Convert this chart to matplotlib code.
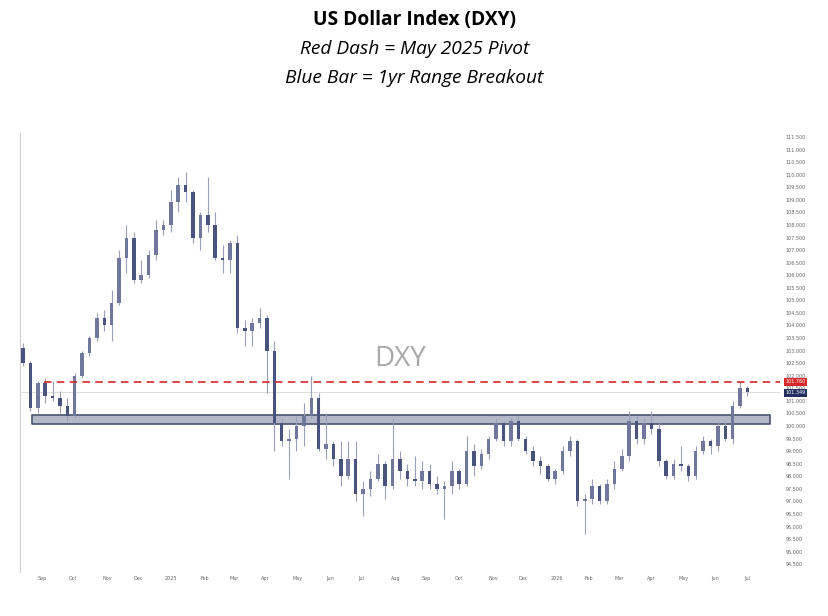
import numpy as np
import pandas as pd
import matplotlib
matplotlib.use("Agg")
import matplotlib.pyplot as plt

# weekly DXY bars, first week starts 2024-08-12, last week starts 2026-06-29
first_week = "2024-08-12"

opens = [103.1, 102.5, 100.7, 101.7, 101.2, 101.1, 100.8, 100.4, 102.0, 102.9,
         103.5, 104.3, 104.0, 104.9, 106.7, 107.5, 105.8, 106.0, 106.8, 107.8,
         108.0, 108.9, 109.6, 109.3, 107.5, 108.4, 108.0, 106.7, 106.6, 107.3,
         103.9, 103.8, 104.1, 104.3, 103.0, 100.1, 99.4, 99.5, 100.0, 100.4,
         101.1, 99.1, 99.3, 98.7, 98.0, 98.7, 97.3, 97.5, 97.9, 98.5,
         97.6, 98.7, 98.2, 97.9, 97.8, 98.2, 97.7, 97.5, 97.6, 98.2,
         97.7, 99.0, 98.4, 98.9, 99.5, 100.1, 99.4, 100.2, 99.5, 99.0,
         98.6, 98.4, 97.9, 98.2, 99.0, 99.4, 97.0, 97.1, 97.6, 97.0,
         97.7, 98.3, 98.8, 100.2, 99.5, 100.1, 99.9, 98.6, 98.0, 98.5,
         98.4, 98.0, 99.0, 99.4, 99.2, 100.0, 99.5, 100.8, 101.5]
highs = [103.3, 102.6, 101.8, 101.9, 101.8, 101.4, 101.1, 102.1, 103.0, 103.6,
         104.5, 104.6, 105.4, 107.0, 108.0, 107.7, 106.6, 107.0, 108.2, 108.2,
         109.4, 109.9, 110.1, 109.4, 108.5, 109.9, 108.5, 107.2, 107.4, 107.6,
         104.2, 104.3, 104.7, 104.4, 103.4, 100.3, 99.9, 100.4, 100.9, 102.0,
         101.3, 100.5, 99.4, 99.4, 99.4, 99.4, 97.8, 98.2, 98.9, 98.6,
         100.3, 99.0, 98.5, 98.8, 98.6, 98.5, 98.0, 97.8, 98.6, 98.3,
         99.6, 99.3, 99.1, 99.6, 100.3, 100.2, 100.3, 100.4, 99.6, 99.2,
         98.8, 98.5, 98.3, 99.2, 99.6, 99.5, 97.3, 97.9, 97.7, 97.9,
         98.6, 99.1, 100.6, 100.4, 100.3, 100.6, 100.1, 98.7, 98.7, 99.2,
         98.5, 99.2, 99.6, 99.5, 100.2, 100.2, 101.0, 101.8, 101.6]
lows = [102.4, 100.6, 100.5, 100.9, 101.0, 100.5, 100.2, 100.3, 101.9, 102.8,
        103.4, 103.8, 103.4, 104.8, 106.1, 105.7, 105.7, 105.9, 106.6, 107.6,
        107.7, 108.5, 108.9, 107.3, 107.0, 107.7, 106.6, 106.1, 106.1, 103.7,
        103.2, 103.2, 103.9, 101.3, 99.0, 99.2, 97.9, 99.0, 99.2, 100.3,
        99.0, 98.7, 98.4, 97.6, 97.9, 97.0, 96.4, 97.2, 97.8, 97.1,
        97.5, 97.9, 97.6, 97.6, 97.5, 97.5, 97.3, 96.3, 97.3, 97.5,
        97.6, 98.0, 98.3, 98.7, 99.4, 99.2, 99.2, 99.4, 98.9, 98.4,
        98.1, 97.8, 97.7, 98.1, 98.8, 96.8, 95.7, 96.9, 96.9, 96.9,
        97.5, 98.2, 98.6, 99.3, 99.3, 99.7, 98.4, 97.9, 97.9, 98.2,
        97.8, 97.9, 98.9, 98.9, 99.0, 99.4, 99.3, 100.7, 101.2]
closes = [102.5, 100.7, 101.7, 101.2, 101.1, 100.8, 100.4, 102.0, 102.9, 103.5,
          104.3, 104.0, 104.9, 106.7, 107.5, 105.8, 106.0, 106.8, 107.8, 108.0,
          108.9, 109.6, 109.3, 107.5, 108.4, 108.0, 106.7, 106.6, 107.3, 103.9,
          103.8, 104.1, 104.3, 103.0, 100.1, 99.4, 99.5, 100.0, 100.4, 101.1,
          99.1, 99.3, 98.7, 98.0, 98.7, 97.3, 97.5, 97.9, 98.5, 97.6,
          98.7, 98.2, 97.9, 97.8, 98.2, 97.7, 97.5, 97.6, 98.2, 97.7,
          99.0, 98.4, 98.9, 99.5, 100.1, 99.4, 100.2, 99.5, 99.0, 98.6,
          98.4, 97.9, 98.2, 99.0, 99.4, 97.0, 97.1, 97.6, 97.0, 97.7,
          98.3, 98.8, 100.2, 99.5, 100.1, 99.9, 98.6, 98.0, 98.5, 98.4,
          98.0, 99.0, 99.4, 99.2, 100.0, 99.5, 100.8, 101.5, 101.35]

pivot_level = 101.76          # May 2025 pivot
pivot_from = "2024-09-03"
range_low, range_high = 100.08, 100.45   # 1yr range band
range_from, range_to = "2024-08-22", "2026-07-22"
last_price = 101.35

month_starts = pd.date_range("2024-09-01", "2026-07-01", freq="MS")


def bday(date):
    # business-day index counted from the first week
    return np.busday_count(first_week, np.busday_offset(np.datetime64(date, "D"), 0, roll="forward"))


o = np.array(opens)
h = np.array(highs)
l = np.array(lows)
c = np.array(closes)
x = np.arange(len(c)) * 5 + 2
up = c >= o

fig = plt.figure(figsize=(8.29, 6.16), dpi=100, facecolor="white")
ax = fig.add_axes([20 / 829, 1 - 572 / 616, 760 / 829, (572 - 133) / 616])

ax.set_ylim(111.5 - (572 - 137) / 25.13, 111.5 + 4 / 25.13)
ax.set_xlim(0, 514)

# range band and lines
ax.axhline(last_price, color="#dddddd", lw=0.8, zorder=1)
ax.fill_between([bday(range_from), bday(range_to)], range_low, range_high,
                facecolor="#b3b7c7", edgecolor="#4a5470", lw=1.2, zorder=2)
ax.hlines(pivot_level, bday(pivot_from), 514, colors="#d62828", lw=1.2,
          linestyles=(0, (4.5, 3.2)), zorder=4)

# candles
ax.vlines(x, l, h, color="#9aa0bb", lw=0.8, zorder=3)
ax.bar(x[up], (c - o)[up], bottom=o[up], width=2.4, color="#6f789c", zorder=3)
ax.bar(x[~up], (c - o)[~up], bottom=o[~up], width=2.4, color="#48547d", zorder=3)

ax.text(0.5, 0.485, "DXY", transform=ax.transAxes, ha="center", va="center",
        fontsize=20, color="#a9a9a9", family="Open Sans")

# axes styling
for s in ["top", "right", "bottom"]:
    ax.spines[s].set_visible(False)
ax.spines["left"].set_color("#d0d0d0")
ax.spines["left"].set_linewidth(0.8)

yt = np.arange(94.5, 111.51, 0.5)
ax.yaxis.tick_right()
ax.set_yticks(yt)
ax.set_yticklabels(["%.3f" % v for v in yt])
ax.tick_params(axis="y", length=0, pad=4, labelsize=3.5, labelcolor="#666666")

tick_pos = [bday(m) for m in month_starts]
tick_lab = [str(m.year) if m.month == 1 else m.strftime("%b") for m in month_starts]
ax.set_xticks(tick_pos)
ax.set_xticklabels(tick_lab)
ax.tick_params(axis="x", length=0, pad=3, labelsize=3.5, labelcolor="#666666")

# price tags on the scale
tr = ax.get_yaxis_transform()
ax.text(1.007, pivot_level, "101.760", transform=tr, fontsize=3.5, color="white",
        va="center", ha="left", bbox=dict(boxstyle="square,pad=0.3", fc="#d62828", ec="none"))
ax.text(1.007, last_price - 0.03, "101.349", transform=tr, fontsize=3.5, color="white",
        va="center", ha="left", bbox=dict(boxstyle="square,pad=0.3", fc="#243060", ec="none"))

fig.text(0.5, 1 - 20 / 616, "US Dollar Index (DXY)", ha="center", va="center",
         fontsize=13.8, fontweight="bold", family="Open Sans")
fig.text(0.5, 1 - 49 / 616, "Red Dash = May 2025 Pivot", ha="center", va="center",
         fontsize=13.8, style="italic", family="Open Sans")
fig.text(0.5, 1 - 78 / 616, "Blue Bar = 1yr Range Breakout", ha="center", va="center",
         fontsize=13.8, style="italic", family="Open Sans")

fig.savefig("out.png", dpi=100)
